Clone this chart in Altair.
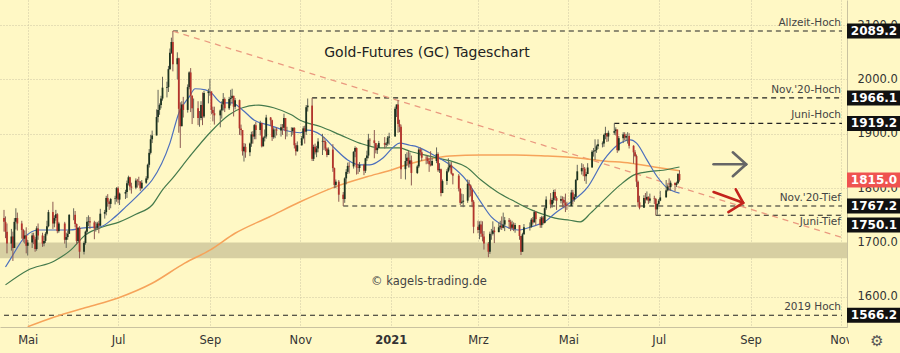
import altair as alt
import pandas as pd

# ---------------- data ----------------
holidays = ["2020-05-25", "2020-07-03", "2020-09-07", "2020-11-26", "2020-12-25",
            "2021-01-01", "2021-01-18", "2021-02-15", "2021-04-02", "2021-05-31", "2021-07-05"]
first_open = 1745

closes = [
    1738, 1720, 1698,
    1711, 1690, 1738, 1745, 1735,
    1723, 1707, 1713, 1694, 1700,
    1713, 1706, 1688, 1726, 1713,
    1698, 1703, 1716, 1730, 1756,
    1735, 1745, 1752, 1721, 1735,
    1705, 1710, 1716, 1751,
    1751, 1734, 1703, 1727, 1683,
    1699, 1720, 1738, 1739, 1737,
    1726, 1727, 1735, 1731, 1753,
    1756, 1782, 1775, 1771, 1780,
    1781, 1800, 1779, 1790,
    1793, 1809, 1820, 1803, 1801,
    1814, 1813, 1812, 1800, 1810,
    1818, 1843, 1865, 1890, 1897,
    1931, 1944, 1953, 1965, 1985,
    1986, 2019, 2049, 2069, 2028,
    2039, 1946, 1914, 1954, 1944,
    1986, 2013, 1970, 1947, 1947,
    1929, 1929, 1953, 1932, 1975,
    1978, 1978, 1944, 1938, 1934,
    1943, 1954, 1964, 1947,
    1964, 1966, 1970, 1950, 1962,
    1910, 1907, 1868, 1876, 1866,
    1882, 1899, 1895, 1916, 1907,
    1920, 1877, 1893, 1895, 1930,
    1925, 1894, 1908, 1908, 1906,
    1912, 1911, 1929, 1905, 1905,
    1905, 1911, 1879, 1868, 1879,
    1892, 1910, 1904, 1949, 1952,
    1854, 1876, 1866, 1873, 1886,
    1887, 1885, 1873, 1861, 1871,
    1837, 1806, 1812, 1788,
    1780, 1818, 1830, 1841, 1840,
    1867, 1874, 1838, 1837, 1843,
    1832, 1855, 1860, 1889, 1888,
    1883, 1870, 1874, 1883,
    1880, 1882, 1893, 1895,
    1946, 1954, 1918, 1913, 1835,
    1850, 1856, 1845, 1851, 1828,
    1840, 1871, 1866, 1856,
    1855, 1850, 1844, 1842, 1850,
    1863, 1833, 1835, 1791, 1813,
    1831, 1838, 1842, 1827, 1823,
    1799, 1773, 1775, 1777,
    1808, 1805, 1797, 1775, 1729,
    1723, 1733, 1716, 1711, 1698,
    1683, 1716, 1716, 1722, 1719,
    1728, 1731, 1727, 1733, 1741,
    1738, 1727, 1733, 1725, 1732,
    1712, 1683, 1715, 1728,
    1729, 1742, 1737, 1756, 1743,
    1732, 1746, 1736, 1763, 1779,
    1770, 1778, 1793, 1782, 1777,
    1780, 1778, 1773, 1768, 1767,
    1792, 1779, 1784, 1815, 1831,
    1837, 1836, 1822, 1826, 1838,
    1867, 1868, 1870, 1877, 1881,
    1882, 1898, 1901, 1895, 1902,
    1905, 1908, 1870, 1892,
    1899, 1893, 1896, 1896, 1878,
    1866, 1859, 1812, 1774, 1764,
    1782, 1779, 1784, 1777, 1781,
    1780, 1761, 1771, 1777, 1783,
    1796, 1803, 1802, 1810,
    1806, 1809, 1826, 1815,
]

highs = [
    1760, 1748, 1735,
    1725, 1720, 1745, 1763, 1755,
    1740, 1725, 1722, 1728, 1705,
    1718, 1718, 1710, 1730, 1735,
    1718, 1712, 1719, 1740, 1760,
    1775, 1750, 1760, 1754, 1738,
    1738, 1718, 1722, 1752,
    1763, 1758, 1735, 1728, 1730,
    1702, 1722, 1747, 1750, 1747,
    1740, 1738, 1738, 1740, 1762,
    1760, 1786, 1789, 1777, 1782,
    1786, 1802, 1803, 1792,
    1797, 1814, 1823, 1821, 1810,
    1818, 1817, 1821, 1813, 1815,
    1822, 1845, 1872, 1898, 1906,
    1945, 1981, 1956, 1970, 2005,
    1996, 2025, 2057, 2077, 2089.2,
    2050, 2040, 1958, 1960, 1968,
    1991, 2015, 2021, 1971, 1965,
    1960, 1942, 1960, 1976, 1979,
    1983, 2001, 1975, 1950, 1950,
    1945, 1960, 1975, 1967,
    1968, 1981, 1983, 1967, 1966,
    1963, 1917, 1907, 1883, 1882,
    1884, 1904, 1905, 1918, 1922,
    1924, 1920, 1895, 1908, 1935,
    1931, 1926, 1912, 1910, 1912,
    1918, 1918, 1937, 1929, 1913,
    1912, 1912, 1912, 1883, 1886,
    1896, 1914, 1915, 1953, 1965,
    1966.1, 1880, 1882, 1878, 1892,
    1900, 1894, 1888, 1875, 1875,
    1881, 1838, 1816, 1815,
    1793, 1820, 1835, 1847, 1848,
    1868, 1877, 1875, 1845, 1848,
    1845, 1856, 1869, 1900, 1892,
    1907, 1882, 1880, 1887,
    1894, 1885, 1896, 1902,
    1950, 1954, 1962, 1926, 1917,
    1863, 1866, 1869, 1866, 1860,
    1843, 1874, 1875, 1872,
    1860, 1860, 1856, 1868, 1856,
    1875, 1866, 1846, 1836, 1816,
    1835, 1855, 1848, 1848, 1828,
    1826, 1800, 1790, 1789,
    1816, 1815, 1807, 1800, 1778,
    1740, 1739, 1740, 1739, 1721,
    1701, 1720, 1725, 1739, 1729,
    1737, 1740, 1748, 1755, 1747,
    1745, 1742, 1740, 1737, 1736,
    1732, 1712, 1718, 1734,
    1737, 1745, 1747, 1759, 1758,
    1747, 1749, 1749, 1765, 1785,
    1791, 1782, 1797, 1798, 1785,
    1786, 1785, 1784, 1790, 1775,
    1797, 1797, 1789, 1817, 1843,
    1846, 1844, 1839, 1830, 1846,
    1870, 1874, 1890, 1880, 1890,
    1886, 1900, 1913, 1900, 1906,
    1919.2, 1912, 1908, 1896,
    1903, 1903, 1900, 1903, 1901,
    1879, 1870, 1862, 1814, 1786,
    1787, 1791, 1794, 1785, 1790,
    1786, 1782, 1772, 1780, 1795,
    1815, 1807, 1818, 1814,
    1809, 1812, 1828, 1833,
]

lows = [
    1720, 1708, 1680,
    1685, 1666, 1690, 1724, 1722,
    1707, 1700, 1698, 1680, 1676,
    1690, 1697, 1683, 1685, 1705,
    1692, 1693, 1699, 1713, 1728,
    1725, 1728, 1740, 1717, 1718,
    1698, 1690, 1705, 1720,
    1741, 1728, 1696, 1700, 1671,
    1678, 1696, 1715, 1730, 1725,
    1706, 1720, 1723, 1717, 1730,
    1744, 1750, 1766, 1760, 1763,
    1770, 1775, 1772, 1769,
    1780, 1782, 1805, 1796, 1790,
    1798, 1801, 1805, 1795, 1798,
    1808, 1815, 1838, 1862, 1883,
    1910, 1921, 1935, 1947, 1961,
    1967, 1977, 2018, 2047, 2015,
    2000, 1902, 1874, 1916, 1930,
    1939, 1982, 1940, 1918, 1929,
    1916, 1913, 1925, 1916, 1929,
    1956, 1970, 1936, 1923, 1917,
    1912, 1928, 1943, 1940,
    1944, 1952, 1957, 1932, 1945,
    1898, 1897, 1860, 1849, 1856,
    1859, 1876, 1882, 1890, 1890,
    1897, 1875, 1879, 1886, 1891,
    1915, 1887, 1891, 1892, 1897,
    1895, 1898, 1907, 1890, 1895,
    1895, 1898, 1873, 1860, 1867,
    1878, 1890, 1882, 1898, 1941,
    1850, 1850, 1862, 1857, 1866,
    1861, 1870, 1868, 1857, 1864,
    1830, 1800, 1800, 1775,
    1767.2, 1773, 1807, 1826, 1827,
    1836, 1857, 1825, 1826, 1830,
    1824, 1828, 1850, 1855, 1877,
    1855, 1864, 1863, 1874,
    1873, 1875, 1878, 1880,
    1895, 1931, 1902, 1903, 1817,
    1816, 1841, 1838, 1838, 1805,
    1826, 1837, 1860, 1850,
    1844, 1845, 1830, 1840, 1841,
    1846, 1830, 1828, 1785, 1791,
    1806, 1829, 1834, 1825, 1807,
    1794, 1769, 1771, 1765,
    1773, 1783, 1785, 1765, 1717,
    1717, 1706, 1710, 1702, 1687,
    1673, 1679, 1705, 1713, 1699,
    1719, 1724, 1723, 1726, 1721,
    1725, 1721, 1724, 1721, 1718,
    1705, 1677, 1684, 1714,
    1722, 1727, 1733, 1737, 1731,
    1727, 1727, 1733, 1735, 1760,
    1763, 1764, 1772, 1777, 1760,
    1772, 1765, 1763, 1756, 1760,
    1767, 1770, 1775, 1783, 1814,
    1825, 1822, 1813, 1808, 1827,
    1838, 1858, 1852, 1865, 1872,
    1875, 1876, 1890, 1885, 1886,
    1898, 1897, 1865, 1868,
    1883, 1888, 1887, 1882, 1873,
    1845, 1857, 1802, 1766, 1761,
    1766, 1772, 1777, 1771, 1773,
    1771, 1750.1, 1751, 1768, 1776,
    1786, 1794, 1795, 1795,
    1794, 1802, 1808, 1812,
]

# moving averages (blue, green, orange)
ma_blue_dates = ["2020-04-16", "2020-04-19", "2020-04-29", "2020-05-08", "2020-05-19", "2020-05-29",
                 "2020-06-08", "2020-06-19", "2020-06-28", "2020-07-06", "2020-07-18", "2020-07-24",
                 "2020-08-05", "2020-08-11", "2020-08-18", "2020-08-22", "2020-08-29", "2020-09-02",
                 "2020-09-09", "2020-09-16", "2020-09-23", "2020-10-01", "2020-10-11", "2020-10-21",
                 "2020-11-01", "2020-11-06", "2020-11-15", "2020-11-24", "2020-12-03", "2020-12-11",
                 "2020-12-18", "2020-12-27", "2021-01-03", "2021-01-07", "2021-01-14", "2021-01-19",
                 "2021-01-30", "2021-02-10", "2021-02-21", "2021-03-02", "2021-03-10", "2021-03-20",
                 "2021-03-28", "2021-04-06", "2021-04-15", "2021-04-22", "2021-05-02", "2021-05-14",
                 "2021-05-25", "2021-06-03", "2021-06-12", "2021-06-16", "2021-06-23", "2021-06-30",
                 "2021-07-06", "2021-07-15"]
ma_blue = [1655, 1668, 1710, 1723, 1723, 1723,
           1727, 1729, 1745, 1765, 1797, 1815,
           1883, 1938, 1968, 1983, 1981, 1975,
           1957, 1957, 1944, 1925, 1916, 1907,
           1902, 1907, 1898, 1874, 1852, 1843,
           1843, 1856, 1876, 1883, 1879, 1876,
           1861, 1843, 1815, 1778, 1747, 1729,
           1723, 1729, 1738, 1754, 1773, 1802,
           1852, 1879, 1889, 1883, 1852, 1821,
           1802, 1791]

ma_green_dates = ["2020-04-16", "2020-05-01", "2020-05-19", "2020-05-30", "2020-06-09", "2020-06-21",
                  "2020-07-02", "2020-07-13", "2020-07-24", "2020-07-31", "2020-08-07", "2020-08-18",
                  "2020-09-01", "2020-09-14", "2020-09-23", "2020-10-04", "2020-10-14", "2020-10-26",
                  "2020-11-01", "2020-11-15", "2020-11-28", "2020-12-11", "2020-12-25", "2021-01-07",
                  "2021-01-14", "2021-01-30", "2021-02-21", "2021-03-03", "2021-03-14", "2021-03-26",
                  "2021-04-06", "2021-04-15", "2021-04-22", "2021-05-02", "2021-05-09", "2021-05-16",
                  "2021-05-25", "2021-06-05", "2021-06-14", "2021-06-23", "2021-07-04", "2021-07-15"]
ma_green = [1622, 1649, 1666, 1686, 1714, 1729,
            1738, 1752, 1769, 1797, 1819, 1857,
            1902, 1935, 1948, 1953, 1948, 1935,
            1925, 1913, 1898, 1883, 1874, 1874,
            1868, 1857, 1839, 1815, 1793, 1775,
            1760, 1751, 1745, 1741, 1738, 1754,
            1778, 1806, 1824, 1830, 1833, 1839]

ma_orange_dates = ["2020-05-01", "2020-05-19", "2020-06-10", "2020-07-01", "2020-07-24", "2020-08-15",
                   "2020-09-01", "2020-09-18", "2020-10-11", "2020-11-01", "2020-11-24", "2020-12-16",
                   "2021-01-01", "2021-01-14", "2021-01-30", "2021-02-10", "2021-03-03", "2021-03-26",
                   "2021-04-17", "2021-05-02", "2021-05-25", "2021-06-12", "2021-06-28", "2021-07-15"]
ma_orange = [1545, 1563, 1581, 1598, 1625, 1662,
             1686, 1717, 1747, 1775, 1802, 1821,
             1833, 1845, 1855, 1859, 1861, 1861,
             1859, 1857, 1850, 1846, 1839, 1832]

level_prices = [2089.2, 1966.1, 1919.2, 1767.2, 1750.1, 1566.2]
level_names = ["Allzeit-Hoch", "Nov.'20-Hoch", "Juni-Hoch", "Nov.'20-Tief", "Juni-Tief", "2019 Hoch"]
level_starts = ["2020-08-07", "2020-11-09", "2021-06-01", "2020-11-30", "2021-06-29", "2020-04-15"]
last_price = 1815.0

trend_dates = ["2020-08-07", "2021-11-01"]
trend_prices = [2089.2, 1710.0]

band_low, band_high = 1671, 1700

# arrows (segments: start date/price -> end date/price)
gray_arrow_x = ["2021-08-07", "2021-08-20", "2021-08-20"]
gray_arrow_y = [1844, 1866, 1822]
gray_arrow_x2 = ["2021-08-29", "2021-08-29", "2021-08-29"]
gray_arrow_y2 = [1844, 1844, 1844]
red_arrow_x = ["2021-08-07", "2021-08-22", "2021-08-17"]
red_arrow_y = [1793, 1798, 1756]
red_arrow_x2 = ["2021-08-27", "2021-08-27", "2021-08-27"]
red_arrow_y2 = [1773, 1773, 1773]

axis_prices = [1600, 1700, 1800, 1900, 2000, 2100]

# ---------------- build frames ----------------
dates = [d for d in pd.bdate_range("2020-04-15", "2021-07-15") if d.strftime("%Y-%m-%d") not in holidays]
n = min(len(dates), len(closes), len(highs), len(lows))
opens = [first_open] + closes[:-1]
candles = pd.DataFrame({
    "date": dates[:n],
    "open": opens[:n],
    "close": closes[:n],
    "high": [max(h, o, c) for h, o, c in zip(highs[:n], opens[:n], closes[:n])],
    "low": [min(l, o, c) for l, o, c in zip(lows[:n], opens[:n], closes[:n])],
})

blue_df = pd.DataFrame({"date": pd.to_datetime(ma_blue_dates), "v": ma_blue})
green_df = pd.DataFrame({"date": pd.to_datetime(ma_green_dates), "v": ma_green})
orange_df = pd.DataFrame({"date": pd.to_datetime(ma_orange_dates), "v": ma_orange})
trend_df = pd.DataFrame({"date": pd.to_datetime(trend_dates), "v": trend_prices})

X_END = pd.Timestamp("2021-11-01 17:00")
levels_df = pd.DataFrame({
    "price": level_prices,
    "name": level_names,
    "start": pd.to_datetime(level_starts),
    "end": [X_END] * len(level_prices),
})
gray_df = pd.DataFrame({"x": pd.to_datetime(gray_arrow_x), "y": gray_arrow_y,
                        "x2": pd.to_datetime(gray_arrow_x2), "y2": gray_arrow_y2})
red_df = pd.DataFrame({"x": pd.to_datetime(red_arrow_x), "y": red_arrow_y,
                       "x2": pd.to_datetime(red_arrow_x2), "y2": red_arrow_y2})
band_df = pd.DataFrame({"lo": [band_low], "hi": [band_high]})
boxes_df = pd.DataFrame({"price": level_prices + [last_price],
                         "kind": ["level"] * len(level_prices) + ["last"]})
one_df = pd.DataFrame({"a": [0]})

# ---------------- style ----------------
BG = "#fff8c5"
GRID = "#cdc7a3"
FONT = "DejaVu Sans"
W, H = 847, 327
PX_PER_UNIT = 0.5433

xs = alt.Scale(domain=[alt.DateTime(year=2020, month=4, date=15, hours=16),
                       alt.DateTime(year=2021, month=11, date=1, hours=17)])
ys = alt.Scale(domain=[1544.5, 2146.3], zero=False, nice=False)

month_ticks = [alt.DateTime(year=y, month=m, date=1) for (y, m) in
               [(2020, 5), (2020, 7), (2020, 9), (2020, 11), (2021, 1), (2021, 3),
                (2021, 5), (2021, 7), (2021, 9), (2021, 11)]]

xaxis = alt.Axis(
    values=month_ticks, title=None, grid=True, gridColor=GRID, gridDash=[1, 2],
    ticks=False, domain=True, domainColor="#c9c2a0", labelFont=FONT, labelFontSize=11.5,
    labelColor="#333333", labelPadding=7, labelFlush=False, labelOverlap=False,
    labelExpr="month(datum.value) == 0 ? timeFormat(datum.value, '%Y') : "
              "['Jan','Feb','Mrz','Apr','Mai','Jun','Jul','Aug','Sep','Okt','Nov','Dez'][month(datum.value)]",
    labelFontWeight={"condition": {"test": "month(datum.value) == 0", "value": "bold"}, "value": "normal"},
)
yaxis = alt.Axis(
    orient="right", values=axis_prices, format=".1f", title=None, grid=True, gridColor=GRID,
    gridDash=[1, 2], ticks=False, domain=True, domainColor="#c9c2a0", labelFont=FONT,
    labelFontSize=11.5, labelColor="#333333", labelPadding=10, labelAlign="left",
)


def X(f):
    return alt.X(f, type="temporal", scale=xs, axis=xaxis, title=None)


def Y(f):
    return alt.Y(f, type="quantitative", scale=ys, axis=yaxis, title=None)


# ---------------- layers ----------------
band = alt.Chart(band_df).mark_rect(color="#d7cfa2").encode(
    x=alt.value(0), x2=alt.value(W), y=Y("hi"), y2="lo")

level_lines = alt.Chart(levels_df).mark_rule(color="#222222", strokeDash=[5, 4], strokeWidth=1.1).encode(
    x=X("start"), x2="end", y=Y("price"))

trend = alt.Chart(trend_df).mark_line(color="#ea9a80", strokeDash=[6, 5], strokeWidth=1.3, clip=True).encode(
    x=X("date"), y=Y("v"))

orange = alt.Chart(orange_df).mark_line(color="#f6a35a", strokeWidth=1.5, interpolate="monotone", clip=True).encode(
    x=X("date"), y=Y("v"))
green = alt.Chart(green_df).mark_line(color="#447a4c", strokeWidth=1.2, interpolate="monotone", clip=True).encode(
    x=X("date"), y=Y("v"))
blue = alt.Chart(blue_df).mark_line(color="#4c6fbd", strokeWidth=1.2, interpolate="monotone", clip=True).encode(
    x=X("date"), y=Y("v"))

up_cond = "datum.close >= datum.open"
wicks = alt.Chart(candles).mark_rule(strokeWidth=1.0).encode(
    x=X("date"), y=Y("low"), y2="high",
    color=alt.condition(up_cond, alt.value("#66665a"), alt.value("#8c5a52")))
bodies = alt.Chart(candles).mark_bar(size=1.8).encode(
    x=X("date"), y=Y("open"), y2="close",
    color=alt.condition(up_cond, alt.value("#1c3320"), alt.value("#b3342c")))

title_txt = alt.Chart(one_df).mark_text(
    text="Gold-Futures (GC) Tageschart", font=FONT, fontSize=14, color="#222222", align="center",
    baseline="middle").encode(x=alt.value(427), y=alt.value(53))
copy_txt = alt.Chart(one_df).mark_text(
    text="© kagels-trading.de", font=FONT, fontSize=11.5, color="#444444", align="center",
    baseline="middle").encode(x=alt.value(429), y=alt.value(282))

lbl_above = alt.Chart(levels_df).transform_filter("datum.name != 'Juni-Tief'").mark_text(
    font=FONT, fontSize=10.5, color="#444444", align="right", baseline="bottom", dy=-3).encode(
    x=alt.value(841), y=Y("price"), text="name:N")
lbl_below = alt.Chart(levels_df).transform_filter("datum.name == 'Juni-Tief'").mark_text(
    font=FONT, fontSize=10.5, color="#444444", align="right", baseline="top", dy=2).encode(
    x=alt.value(841), y=Y("price"), text="name:N")

gray_arrow = alt.Chart(gray_df).mark_rule(color="#666666", strokeWidth=2.6, strokeCap="round").encode(
    x=X("x"), y=Y("y"), x2="x2", y2="y2")
red_arrow = alt.Chart(red_df).mark_rule(color="#c3231c", strokeWidth=2.6, strokeCap="round").encode(
    x=X("x"), y=Y("y"), x2="x2", y2="y2")

half = 7.5 / PX_PER_UNIT
shift = 18.0
box_base = alt.Chart(boxes_df).transform_calculate(
    c=f"datum.price == 1750.1 ? datum.price - {shift} : datum.price",
    top=f"(datum.price == 1750.1 ? datum.price - {shift} : datum.price) + {half}",
    bot=f"(datum.price == 1750.1 ? datum.price - {shift} : datum.price) - {half}",
    label="format(datum.price, '.1f')",
)
boxes = box_base.mark_rect().encode(
    x=alt.value(W), x2=alt.value(900), y=Y("top:Q"), y2="bot:Q",
    color=alt.condition("datum.kind == 'last'", alt.value("#ef5350"), alt.value("#111111")))
box_txt = box_base.mark_text(font=FONT, fontSize=12, fontWeight="bold", color="white",
                             align="center", baseline="middle").encode(
    x=alt.value(874), y=Y("c:Q"), text="label:N")

corner = alt.Chart(one_df).mark_rect(color=BG).encode(
    x=alt.value(W + 2), x2=alt.value(900), y=alt.value(H + 1), y2=alt.value(353))
gear = alt.Chart(one_df).mark_text(text="⚙", font=FONT, fontSize=15, color="#555555",
                                   align="center", baseline="middle").encode(
    x=alt.value(877), y=alt.value(341))

chart = alt.layer(
    band, level_lines, trend, orange, green, blue, wicks, bodies,
    title_txt, copy_txt, lbl_above, lbl_below, gray_arrow, red_arrow,
    boxes, box_txt, corner, gear,
).properties(
    width=W, height=H, background=BG,
    autosize=alt.AutoSizeParams(type="none"),
    padding={"left": 0, "top": 0, "right": 53, "bottom": 26},
).configure_view(stroke=None, fill=BG)

chart.save("out.html", embed_options={"renderer": "svg", "actions": False})
